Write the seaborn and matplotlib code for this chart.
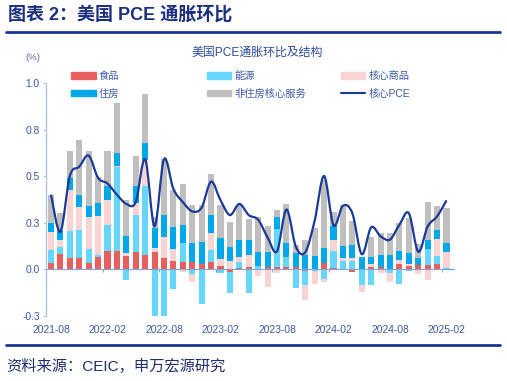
import numpy as np
import pandas as pd
import seaborn as sns
import matplotlib.pyplot as plt
from matplotlib.path import Path
from matplotlib.patches import PathPatch, Patch
from matplotlib.lines import Line2D

# 月份 2021-08 ~ 2025-02
months = [str(p) for p in pd.period_range('2021-08', '2025-02', freq='M')]

# 各分项对PCE环比的拉动 (%)
food = [0.03, 0.08, 0.057, 0.057, 0.03, 0.066, 0.097, 0.097, 0.072, 0.093,
        0.075, 0.093, 0.057, 0.042, 0.039, 0.035, 0.028, 0.036, 0.016, -0.014,
        0.005, 0.013, 0.0, 0.013, 0.013, 0.013, 0.013, -0.011, 0.0, 0.03,
        0.007, 0.0, -0.014, 0.0, 0.01, 0.01, 0.0, 0.027, 0.014, 0.02,
        0.022, 0.025, 0.0]
energy = [0.07, 0.04, 0.15, 0.153, 0.078, 0.011, 0.14, 0.453, -0.06, 0.197,
          0.37, -0.35, -0.30, -0.109, 0.10, -0.028, -0.19, 0.064, -0.02, -0.113,
          0.035, -0.13, 0.016, 0.0, 0.20, 0.053, -0.104, -0.075, -0.01, -0.056,
          0.092, 0.043, 0.045, -0.086, -0.086, 0.0, -0.02, -0.08, -0.013, 0.0,
          0.086, 0.047, 0.005]
goods = [0.10, 0.035, 0.22, 0.125, 0.173, 0.208, 0.134, 0.005, 0.015, 0.063,
         0.14, 0.018, 0.117, 0.066, -0.018, -0.04, 0.0, 0.094, 0.04, 0.043,
         0.025, 0.062, -0.038, -0.099, -0.023, 0.0, 0.0, -0.081, -0.068, -0.012,
         0.057, 0.014, 0.015, -0.036, 0.015, -0.023, -0.05, 0.021, 0.011, -0.025,
         -0.057, 0.089, 0.086]
housing = [0.05, 0.05, 0.065, 0.063, 0.06, 0.072, 0.075, 0.07, 0.09, 0.093,
           0.095, 0.108, 0.116, 0.118, 0.097, 0.104, 0.115, 0.098, 0.11, 0.077,
           0.09, 0.081, 0.074, 0.077, 0.066, 0.076, 0.072, 0.075, 0.07, 0.081,
           0.077, 0.068, 0.07, 0.066, 0.04, 0.067, 0.075, 0.05, 0.061, 0.039,
           0.046, 0.05, 0.047]
services = [0.15, 0.095, 0.145, 0.296, 0.296, 0.136, 0.188, 0.265, 0.195, 0.162,
            0.26, 0.062, 0.30, 0.20, 0.22, 0.206, 0.20, 0.221, 0.18, 0.135,
            0.19, 0.111, 0.188, 0.143, 0.04, 0.207, 0.045, 0.081, 0.152, 0.37,
            0.075, 0.219, 0.13, 0.0, 0.108, 0.115, 0.117, 0.151, 0.188, 0.075,
            0.204, 0.126, 0.19]
core_pce = [0.40, 0.20, 0.50, 0.55, 0.61, 0.49, 0.46, 0.40, 0.35, 0.36,
            0.59, 0.23, 0.59, 0.43, 0.36, 0.31, 0.33, 0.47, 0.37, 0.29,
            0.35, 0.29, 0.265, 0.17, 0.095, 0.32, 0.12, 0.09, 0.26, 0.50,
            0.235, 0.34, 0.30, 0.08, 0.224, 0.176, 0.158, 0.238, 0.30, 0.093,
            0.229, 0.283, 0.369]

names = ['食品', '能源', '核心商品', '住房', '非住房核心服务']
colors = ['#E8605E', '#66D6FF', '#FAD3D3', '#00A8EA', '#BFBFBF']
line_color = '#1B3A96'
text_blue = '#3A58A6'

x_labels = ['2021-08', '2022-02', '2022-08', '2023-02', '2023-08',
            '2024-02', '2024-08', '2025-02']
y_ticks = [-0.25, 0.0, 0.25, 0.5, 0.75, 1.0]
y_labels = ['-0.3', '0.0', '0.3', '0.5', '0.8', '1.0']

df = pd.DataFrame({'month': months, '食品': food, '能源': energy,
                   '核心商品': goods, '住房': housing, '非住房核心服务': services})

# 正负分别堆叠：累计值，从最外层开始画，内层覆盖
vals = df[names].to_numpy()
cum_pos = np.cumsum(np.clip(vals, 0, None), axis=1)
cum_neg = np.cumsum(np.clip(vals, None, 0), axis=1)
for k, n in enumerate(names):
    df['pos_' + n] = cum_pos[:, k]
    df['neg_' + n] = cum_neg[:, k]

sns.set_theme(style='white')
plt.rcParams['font.family'] = ['Liberation Sans', 'Noto Sans CJK SC']
plt.rcParams['axes.unicode_minus'] = False

fig = plt.figure(figsize=(5.07, 3.81), dpi=100)
ax = fig.add_axes([0.0907, 0.1719, 0.8067, 0.6102])

for side in ['pos_', 'neg_']:
    for k in range(len(names) - 1, -1, -1):
        sns.barplot(data=df, x='month', y=side + names[k], color=colors[k],
                    saturation=1, width=0.65, linewidth=0, errorbar=None,
                    ax=ax, zorder=2)

# 核心PCE 平滑曲线
pts = np.column_stack([np.arange(len(core_pce)), core_pce])
verts = [tuple(pts[0])]
codes = [Path.MOVETO]
for i in range(len(pts) - 1):
    p0 = pts[i - 1] if i > 0 else pts[i]
    p1, p2 = pts[i], pts[i + 1]
    p3 = pts[i + 2] if i + 2 < len(pts) else pts[i + 1]
    verts += [tuple(p1 + (p2 - p0) / 6), tuple(p2 - (p3 - p1) / 6), tuple(p2)]
    codes += [Path.CURVE4] * 3
ax.add_patch(PathPatch(Path(verts, codes), facecolor='none',
                       edgecolor=line_color, lw=1.6, zorder=5))

ax.axhline(0, color='#7FA6D8', lw=0.8, zorder=4)
ax.vlines(np.arange(5.5, len(months), 6), -0.014, 0, color='#7FA6D8', lw=0.8, zorder=4)

ax.set_xlim(-0.53, 42.9)
ax.set_ylim(-0.25, 1.0)
ax.set_xticks(range(0, len(months), 6))
ax.set_xticklabels(x_labels)
ax.set_yticks(y_ticks)
ax.set_yticklabels(y_labels)
ax.set_xlabel('')
ax.set_ylabel('')
ax.tick_params(axis='x', length=0, pad=7, labelsize=7.4, labelcolor=text_blue)
ax.tick_params(axis='y', left=True, length=2.5, width=0.8, color='#A9C8EA',
               pad=2, labelsize=7.4, labelcolor=text_blue)
for s in ['top', 'right', 'bottom']:
    ax.spines[s].set_visible(False)
ax.spines['left'].set_color('#A9C8EA')
ax.spines['left'].set_linewidth(1.0)

# 图例：三列
leg_items = [
    [(Patch(color=colors[0]), '食品'), (Patch(color=colors[3]), '住房')],
    [(Patch(color=colors[1]), '能源'), (Patch(color=colors[4]), '非住房核心服务')],
    [(Patch(color=colors[2]), '核心商品'), (Line2D([], [], color=line_color, lw=1.5), '核心PCE')],
]
for xpos, items in zip([0.140, 0.4077, 0.672], leg_items):
    leg = fig.legend([h for h, _ in items], [t for _, t in items],
                     loc='upper left', bbox_to_anchor=(xpos, 0.813),
                     frameon=False, fontsize=7.4, handlelength=2.4,
                     handleheight=0.6, handletextpad=0.3, labelspacing=0.72,
                     borderpad=0, borderaxespad=0)
    for t in leg.get_texts():
        t.set_color(text_blue)

fig.text(0.507, 0.861, '美国PCE通胀环比及结构', ha='center', va='center',
         fontsize=8.6, color='#2E4C9C')
fig.text(0.064, 0.848, '(%)', ha='center', va='center', fontsize=6.8, color='#5A6E9E')

# 标题与来源
fig.text(0.016, 0.961, '图表 2：美国 PCE 通胀环比', ha='left', va='center',
         fontsize=13, fontweight='bold', color='#1B2F7F')
fig.add_artist(Line2D([0.012, 0.987], [0.916, 0.916], color='#1B3591', lw=2))
fig.add_artist(Line2D([0.012, 0.987], [0.0945, 0.0945], color='#1B3591', lw=2))
fig.text(0.012, 0.039, '资料来源：CEIC，申万宏源研究', ha='left', va='center',
         fontsize=11, color='#1F2E6E')

fig.savefig('out.png', dpi=100)
